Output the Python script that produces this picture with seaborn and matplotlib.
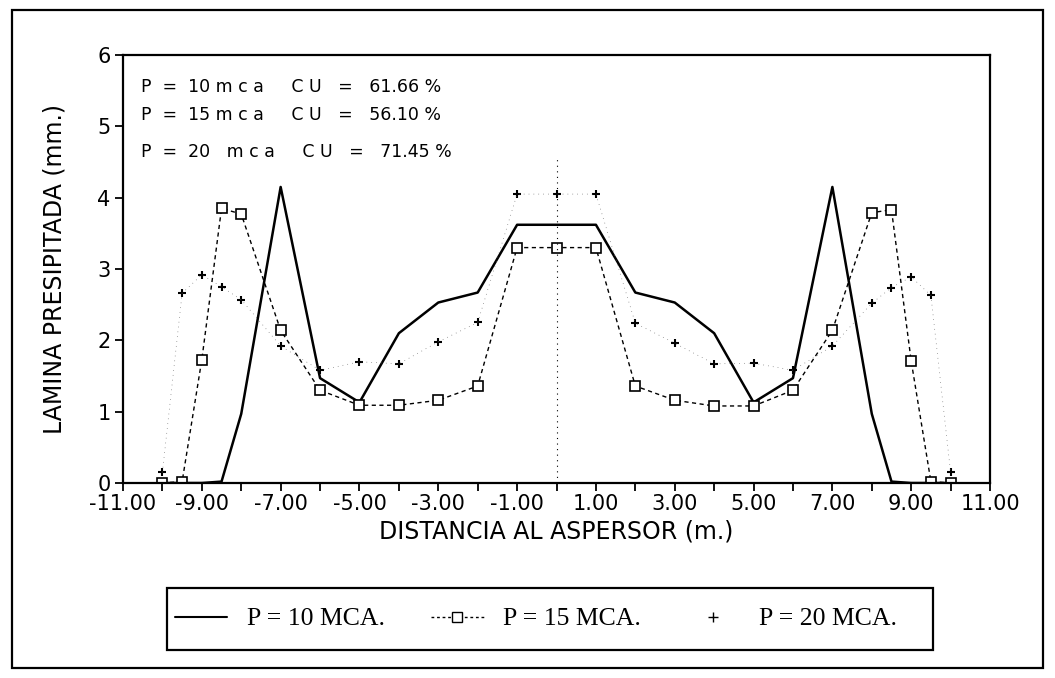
import pandas as pd
import seaborn as sns
import matplotlib.pyplot as plt
from matplotlib.lines import Line2D
from matplotlib.patches import Rectangle

# distances from the sprinkler (m) and measured depth (mm) for each pressure
distancia = [-10, -9.5, -9, -8.5, -8, -7, -6, -5, -4, -3, -2, -1, 0,
             1, 2, 3, 4, 5, 6, 7, 8, 8.5, 9, 9.5, 10]
p10 = [0.0, 0.0, 0.0, 0.02, 0.97, 4.15, 1.47, 1.13, 2.1, 2.53, 2.67, 3.62, 3.62,
       3.62, 2.67, 2.53, 2.1, 1.13, 1.47, 4.15, 0.97, 0.02, 0.0, 0.0, 0.0]
p15 = [0.0, 0.02, 1.73, 3.85, 3.77, 2.14, 1.3, 1.09, 1.09, 1.16, 1.36, 3.3, 3.3,
       3.3, 1.36, 1.16, 1.08, 1.08, 1.3, 2.14, 3.79, 3.83, 1.71, 0.02, 0.0]
p20 = [0.15, 2.66, 2.92, 2.75, 2.57, 1.92, 1.58, 1.7, 1.67, 1.98, 2.25, 4.05, 4.05,
       4.05, 2.24, 1.96, 1.67, 1.68, 1.58, 1.92, 2.52, 2.74, 2.89, 2.63, 0.15]

series_names = ["P = 10 MCA.", "P = 15 MCA.", "P = 20 MCA."]
cu_text = ["P  =  10 m c a     C U   =   61.66 %",
           "P  =  15 m c a     C U   =   56.10 %",
           "P  =  20   m c a     C U   =   71.45 %"]

df = pd.DataFrame({"x": distancia, "p10": p10, "p15": p15, "p20": p20})

sns.set_style("ticks")
plt.rcParams['font.family'] = ['DejaVu Sans']
plt.rcParams['text.color'] = 'black'
plt.rcParams['axes.labelcolor'] = 'black'
plt.rcParams['xtick.color'] = 'black'
plt.rcParams['ytick.color'] = 'black'

fig = plt.figure(figsize=(10.55, 6.78), dpi=100)
ax = fig.add_axes([0.1166, 0.2876, 0.8218, 0.6313])

# P = 10: solid line
sns.lineplot(data=df, x="x", y="p10", ax=ax, color="black", linewidth=1.8)
# P = 15: dashed line with square markers
sns.lineplot(data=df, x="x", y="p15", ax=ax, color="black", linewidth=1.0,
             linestyle=(0, (3, 2.5)), marker="s", markersize=7,
             markerfacecolor="white", markeredgecolor="black", markeredgewidth=1.2)
# P = 20: faint dotted link + plus markers
sns.lineplot(data=df, x="x", y="p20", ax=ax, color="0.35", linewidth=0.5,
             linestyle=(0, (1, 6)))
sns.scatterplot(data=df, x="x", y="p20", ax=ax, marker="+", s=40,
                color="black", linewidth=1.5)

ax.plot([0, 0], [0, 4.55], color="black", linewidth=0.8, linestyle=(0, (1, 4)))

ax.set_xlim(-11, 11)
ax.set_ylim(0, 6)
ax.set_xticks(range(-11, 12))
ax.set_xticklabels([f"{v:.2f}" if v % 2 else "" for v in range(-11, 12)])
ax.set_yticks(range(0, 7))
ax.tick_params(axis="both", which="both", direction="out", length=6, width=1.3,
               labelsize=15, color="black", labelcolor="black")
ax.tick_params(axis="x", pad=2)
ax.tick_params(axis="y", pad=3)
for s in ax.spines.values():
    s.set_linewidth(1.6)
    s.set_color("black")

ax.set_xlabel("DISTANCIA AL ASPERSOR (m.)", fontsize=17, labelpad=4)
ax.set_ylabel("LAMINA PRESIPITADA (mm.)", fontsize=17, labelpad=22)

for txt, yy in zip(cu_text, [5.55, 5.16, 4.64]):
    ax.text(-10.55, yy, txt, fontsize=12.5, ha="left", va="center")

handles = [
    Line2D([], [], color="black", linewidth=1.5),
    Line2D([], [], color="black", linewidth=1.0, linestyle=(0, (2, 2)),
           marker="s", markersize=7, markerfacecolor="white"),
    Line2D([], [], color="black", linestyle="none", marker="+", markersize=7),
]
fig.legend(handles, series_names, loc="center left",
           bbox_to_anchor=(167 / 1055, 1 - 619 / 678),
           ncol=3, frameon=False,
           prop={"family": "Liberation Serif", "size": 18.5},
           handlelength=2.05, handletextpad=0.75, columnspacing=1.8,
           borderpad=0.3, borderaxespad=0)

# legend box
fig.add_artist(Rectangle((167 / 1055, 1 - 650 / 678), 766 / 1055, 62 / 678,
                         transform=fig.transFigure, fill=False,
                         edgecolor="black", linewidth=1.6))
# outer frame around the whole figure
fig.add_artist(Rectangle((12 / 1055, 10 / 678), 1031 / 1055, 658 / 678,
                         transform=fig.transFigure, fill=False,
                         edgecolor="black", linewidth=1.6))

plt.savefig("out.png", dpi=100)
